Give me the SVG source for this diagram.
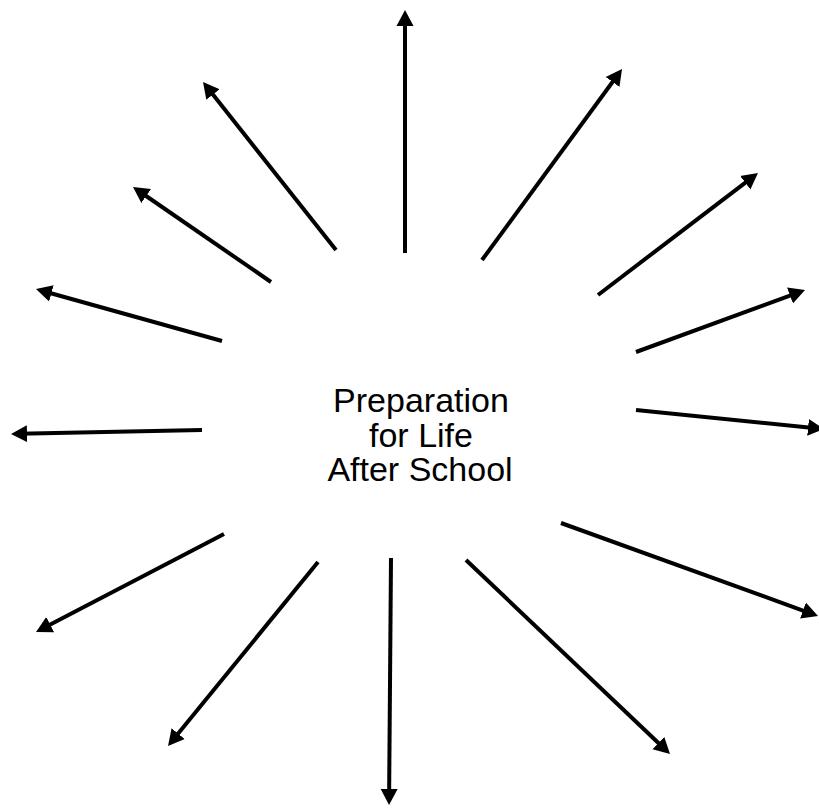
<svg xmlns="http://www.w3.org/2000/svg" width="819" height="812" viewBox="0 0 819 812">
<style>
.c line{stroke:#000;stroke-width:4;marker-end:url(#ah)}
.t{font-family:"Liberation Sans",Arial,sans-serif;font-size:34px;fill:#000;text-anchor:middle}
</style>
<defs>
<marker id="ah" markerUnits="userSpaceOnUse" markerWidth="18" markerHeight="18" refX="8" refY="9" orient="auto" viewBox="0 0 18 18">
<path d="M0,0.5 L16,9 L0,17.5 z" fill="#000"/>
</marker>
</defs>
<rect width="819" height="812" fill="#fff"/>
<g id="center">
<text class="t" x="421" y="412">Preparation</text>
<text class="t" x="421" y="446.5">for Life</text>
<text class="t" x="420" y="481">After School</text>
</g>
<g class="c" id="connectors">
<line x1="405" y1="253" x2="405" y2="18"/>
<line x1="336" y1="250" x2="208" y2="88.3"/>
<line x1="271" y1="282" x2="139.6" y2="191.5"/>
<line x1="222" y1="341" x2="43.7" y2="291.2"/>
<line x1="202" y1="430" x2="19" y2="433.8"/>
<line x1="224" y1="534" x2="43.1" y2="628.3"/>
<line x1="318" y1="562" x2="173.1" y2="739.8"/>
<line x1="391" y1="558" x2="389.1" y2="797"/>
<line x1="466" y1="560" x2="664.2" y2="748.5"/>
<line x1="561" y1="523" x2="810.5" y2="613.3"/>
<line x1="636" y1="410" x2="816" y2="428.2"/>
<line x1="636" y1="352" x2="797.5" y2="292.8"/>
<line x1="598" y1="295" x2="751.6" y2="177.8"/>
<line x1="482" y1="260" x2="617.3" y2="75.5"/>
</g>
</svg>
